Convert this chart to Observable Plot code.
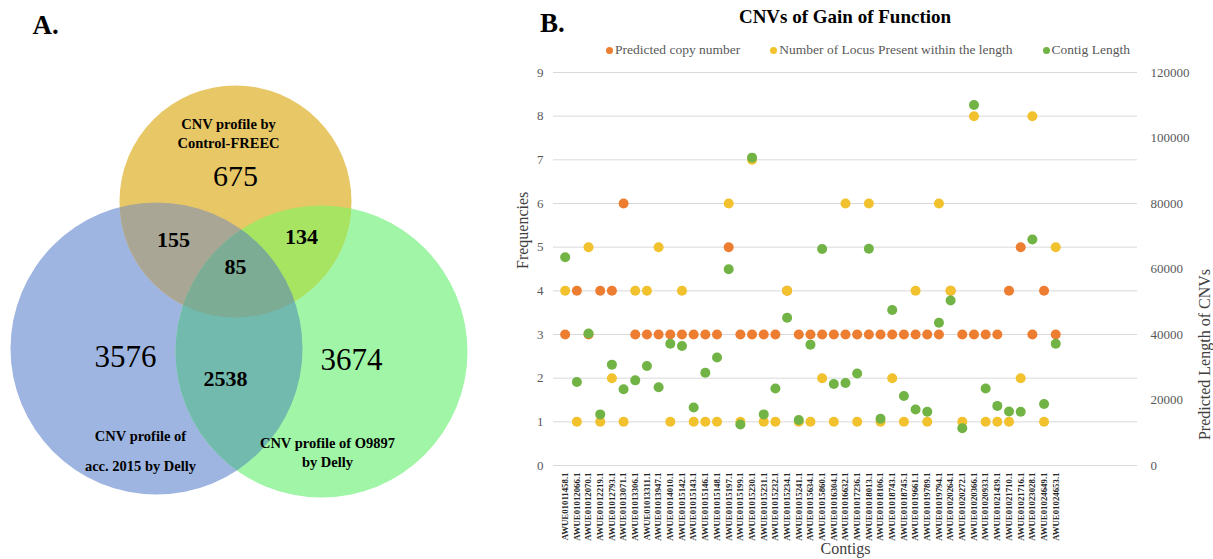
<!DOCTYPE html>
<html>
<head>
<meta charset="utf-8">
<script src="https://cdn.jsdelivr.net/npm/d3@7"></script>
<script src="https://cdn.jsdelivr.net/npm/@observablehq/plot@0.6"></script>
<style>
  body { margin: 0; background: #fff; }
  #root { position: relative; width: 1213px; height: 559px; overflow: hidden; font-family: "Liberation Serif", "Times New Roman", serif; }
  #venn { position: absolute; left: 0; top: 0; }
  #chart { position: absolute; left: 500px; top: 60px; }
  #labB { position: absolute; left: 540px; top: 8px; font-weight: bold; font-size: 27px; color: #000; }
  #title { position: absolute; left: 650px; width: 390px; top: 6px; text-align: center; font-weight: bold; font-size: 19px; color: #000; }
  #legend { position: absolute; left: 560px; width: 616px; top: 42px; display: flex; justify-content: center; gap: 30px; font-size: 13.5px; color: #595959; white-space: nowrap; }
  #legend .item { display: flex; align-items: center; gap: 2px; }
  #legend .sw { width: 7px; height: 7px; border-radius: 50%; display: inline-block; }
</style>
</head>
<body>
<div id="root">
  <div id="venn"></div>
  <div id="labB">B.</div>
  <div id="title">CNVs of Gain of Function</div>
  <div id="legend"></div>
  <div id="chart"></div>
</div>
<script>
// ---------------- Data: Venn diagram (panel A) ----------------
const vennSetLabels = ["CNV profile of\nacc. 2015 by Delly", "CNV profile by\nControl-FREEC", "CNV profile of O9897\nby Delly"];
const vennRegions = ["acc2015 only", "FREEC only", "O9897 only", "acc2015 & FREEC", "FREEC & O9897", "acc2015 & O9897", "all three"];
const vennCounts = [3576, 675, 3674, 155, 134, 2538, 85];

// ---------------- Data: scatter chart (panel B) ----------------
const contigs = [
  "AWUE01011458.1","AWUE01012066.1","AWUE01012070.1","AWUE01012219.1","AWUE01012793.1",
  "AWUE01013071.1","AWUE01013306.1","AWUE01013311.1","AWUE01013947.1","AWUE01014010.1",
  "AWUE01015142.1","AWUE01015143.1","AWUE01015146.1","AWUE01015148.1","AWUE01015197.1",
  "AWUE01015199.1","AWUE01015230.1","AWUE01015231.1","AWUE01015232.1","AWUE01015234.1",
  "AWUE01015241.1","AWUE01015634.1","AWUE01015860.1","AWUE01016304.1","AWUE01016632.1",
  "AWUE01017236.1","AWUE01018013.1","AWUE01018106.1","AWUE01018743.1","AWUE01018745.1",
  "AWUE01019661.1","AWUE01019789.1","AWUE01019794.1","AWUE01020264.1","AWUE01020272.1",
  "AWUE01020366.1","AWUE01020933.1","AWUE01021439.1","AWUE01021710.1","AWUE01021716.1",
  "AWUE01023028.1","AWUE01024649.1","AWUE01024653.1"
];
const copyNumber = [3,4,3,4,4,6,3,3,3,3, 3,3,3,3,5,3,3,3,3,4, 3,3,3,3,3,3,3,3,3,3, 3,3,3,4,3,3,3,3,4,5, 3,4,3];
const locusCount = [4,1,5,1,2,1,4,4,5,1, 4,1,1,1,6,1,7,1,1,4, 1,1,2,1,6,1,6,1,2,1, 4,1,6,4,1,8,1,1,1,2, 8,1,5];
const contigLength = [
  63600,25500,40300,15600,30800,23300,26000,30400,23900,37200,
  36500,17700,28300,33000,59900,12500,94000,15600,23500,45100,
  13900,36900,66100,24900,25200,28100,66200,14300,47500,21200,
  17100,16400,43600,50400,11400,110100,23500,18200,16500,16400,
  69000,18800,37200
];
const seriesNames = ["Predicted copy number", "Number of Locus Present within the length", "Contig Length"];
const leftTicks = [0,1,2,3,4,5,6,7,8,9];
const rightTicks = [0,20000,40000,60000,80000,100000,120000];
const xAxisTitle = "Contigs";
const yLeftTitle = "Frequencies";
const yRightTitle = "Predicted Length of CNVs";

// ---------------- Styles / layout ----------------
const seriesColors = ["#ED7D31", "#F2C12E", "#71B345"];
const serif = "'Liberation Serif', 'Times New Roman', serif";

// ---------------- Panel A: Venn ----------------
const circ = {
  blue:   {cx: 156, cy: 348, r: 146},
  yellow: {cx: 235, cy: 201, r: 116},
  green:  {cx: 321, cy: 351, r: 146}
};
const vcol = {blue: "#9fb5e1", yellow: "#e8c767", green: "#a0f6a6", yb: "#a9a695", yg: "#a6e462", bg: "#72b9ae", ybg: "#7dac94"};
const regionPos = [
  {x: 125, y: 357, size: 31, weight: "normal"},
  {x: 235, y: 176, size: 30, weight: "normal"},
  {x: 351, y: 360, size: 31, weight: "normal"},
  {x: 173, y: 239, size: 22, weight: "bold"},
  {x: 301, y: 236, size: 22, weight: "bold"},
  {x: 225, y: 378, size: 22, weight: "bold"},
  {x: 235, y: 266, size: 22, weight: "bold"}
];
const setLabelPos = [
  {x: 140, y: 446, lh: 2.07},
  {x: 228, y: 132, lh: 1.27},
  {x: 327, y: 451, lh: 1.3}
];
const regionData = vennCounts.map((c, i) => ({region: vennRegions[i], count: c, ...regionPos[i]}));

const circleMark = (c, fill) => Plot.dot([c], {x: "cx", y: "cy", r: c.r, fill});
const vennMarks = [
  circleMark(circ.blue, vcol.blue),
  circleMark(circ.green, vcol.green),
  circleMark(circ.yellow, vcol.yellow),
  circleMark(circ.yellow, vcol.yb),
  circleMark(circ.yellow, vcol.yg),
  circleMark(circ.blue, vcol.bg),
  circleMark(circ.yellow, vcol.ybg),
  Plot.text(["A."], {x: 32, y: 25, text: d => d, textAnchor: "start", fontSize: 27, fontWeight: "bold", fill: "#000"})
];
regionData.forEach(d => {
  vennMarks.push(Plot.text([d], {x: "x", y: "y", text: d => String(d.count), fontSize: d.size, fontWeight: d.weight, fill: "#000"}));
});
vennSetLabels.forEach((t, i) => {
  const p = setLabelPos[i];
  vennMarks.push(Plot.text([t], {x: p.x, y: p.y, text: d => d, fontSize: 14.5, fontWeight: "bold", lineHeight: p.lh, fill: "#000"}));
});

const vennSvg = Plot.plot({
  width: 500, height: 559, margin: 0,
  x: {domain: [0, 500], range: [0, 500], axis: null},
  y: {domain: [0, 559], range: [0, 559], axis: null},
  style: {fontFamily: serif, background: "transparent"},
  marks: vennMarks
});
{
  const s = d3.select(vennSvg);
  const defs = s.insert("defs", ":first-child");
  for (const [id, c] of Object.entries(circ)) {
    defs.append("clipPath").attr("id", "vclip-" + id)
      .append("circle").attr("cx", c.cx).attr("cy", c.cy).attr("r", c.r);
  }
  const clipFor = {
    [vcol.yb]: ["blue"],
    [vcol.yg]: ["green"],
    [vcol.bg]: ["green"],
    [vcol.ybg]: ["blue", "green"]
  };
  const fillOf = el => {
    let n = el;
    while (n && n !== vennSvg) {
      const f = n.getAttribute && n.getAttribute("fill");
      if (f) return f.toLowerCase();
      n = n.parentNode;
    }
    return "";
  };
  s.selectAll("circle").each(function () {
    if (this.closest("clipPath")) return;
    const clips = clipFor[fillOf(this)];
    if (!clips) return;
    this.setAttribute("clip-path", "url(#vclip-" + clips[0] + ")");
    if (clips[1]) {
      const wrap = document.createElementNS("http://www.w3.org/2000/svg", "g");
      this.parentNode.insertBefore(wrap, this);
      wrap.appendChild(this);
      wrap.setAttribute("clip-path", "url(#vclip-" + clips[1] + ")");
    }
  });
}
document.getElementById("venn").appendChild(vennSvg);

// ---------------- Panel B: legend ----------------
const legend = document.getElementById("legend");
seriesNames.forEach((n, i) => {
  const it = document.createElement("span");
  it.className = "item";
  const sw = document.createElement("span");
  sw.className = "sw";
  sw.style.background = seriesColors[i];
  const tx = document.createElement("span");
  tx.textContent = n;
  it.appendChild(sw); it.appendChild(tx);
  legend.appendChild(it);
});

// ---------------- Panel B: chart ----------------
const k = rightTicks[rightTicks.length - 1] / leftTicks[leftTicks.length - 1];
const idx = contigs.map((_, i) => i + 1);
const rows = vals => vals.map((v, i) => ({i: i + 1, v}));

const chart = Plot.plot({
  width: 713, height: 499,
  marginTop: 12, marginBottom: 94, marginLeft: 53, marginRight: 76,
  x: {domain: [0, 50]},
  y: {domain: [0, 9]},
  style: {fontFamily: serif, fontSize: "13px", background: "transparent", overflow: "visible"},
  marks: [
    Plot.gridY(leftTicks.slice(1), {stroke: "#d9d9d9", strokeOpacity: 1}),
    Plot.ruleY([0], {stroke: "#d9d9d9"}),
    Plot.axisY(leftTicks, {anchor: "left", tickSize: 0, tickPadding: 10, fontSize: 13, fill: "#595959", label: null}),
    Plot.axisY(rightTicks.map(v => v / k), {anchor: "right", tickSize: 0, tickPadding: 13, fontSize: 13, fill: "#595959", label: null,
      tickFormat: d => String(Math.round(d * k))}),
    Plot.axisX(idx, {tickFormat: i => contigs[i - 1], tickRotate: -90, tickSize: 0, tickPadding: 7, fontSize: 8.8, fontWeight: "bold", fill: "#262626", label: null}),
    Plot.dot(rows(copyNumber), {x: "i", y: "v", r: 5, fill: seriesColors[0]}),
    Plot.dot(rows(locusCount), {x: "i", y: "v", r: 5, fill: seriesColors[1]}),
    Plot.dot(rows(contigLength), {x: "i", y: d => d.v / k, r: 5, fill: seriesColors[2]}),
    Plot.text([yLeftTitle], {frameAnchor: "left", rotate: -90, dx: -31, text: d => d, fontSize: 16, fill: "#404040"}),
    Plot.text([yRightTitle], {frameAnchor: "right", rotate: -90, dx: 67, text: d => d, fontSize: 16, fill: "#404040"}),
    Plot.text([xAxisTitle], {frameAnchor: "bottom", dy: 88, text: d => d, fontSize: 16, fill: "#404040"})
  ]
});
document.getElementById("chart").appendChild(chart);
</script>
</body>
</html>
